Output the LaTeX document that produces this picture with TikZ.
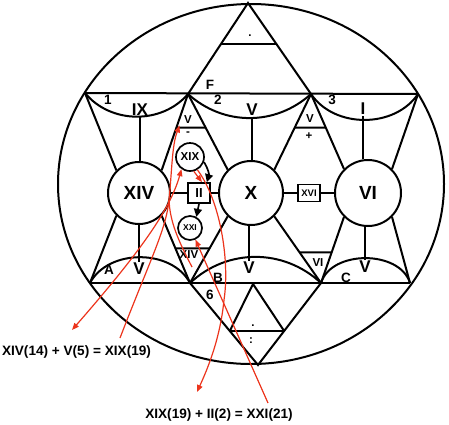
\documentclass[tikz,border=0pt]{standalone}
\usepackage{fontspec}
\setmainfont{Liberation Sans}
\usetikzlibrary{arrows.meta,calc}
\definecolor{annot}{RGB}{236,52,28}

\begin{document}
\begin{tikzpicture}[
    x=1pt, y=1pt,
    line width=2pt,
    ring/.style={circle, draw=black, line width=2pt, minimum size=64pt, inner sep=0pt, font=\fontsize{19}{19}\selectfont\bfseries},
    smallring/.style={circle, draw=black, line width=1.7pt, minimum size=28pt, inner sep=0pt},
    box/.style={rectangle, draw=black, line width=1.7pt, minimum width=22pt, minimum height=20pt, inner sep=0pt},
    lbl/.style={inner sep=0.5pt, font=\fontsize{17}{17}\selectfont\bfseries},
    tag/.style={inner sep=0.5pt, font=\fontsize{13.5}{13.5}\selectfont\bfseries},
    tiny/.style={inner sep=0.5pt, font=\fontsize{11.5}{11.5}\selectfont\bfseries},
    sum/.style={inner sep=0pt, font=\fontsize{13.6}{13.6}\selectfont\bfseries},
    arrow/.style={-{Triangle[length=8pt,width=8pt]}, line width=1.7pt},
    redarrow/.style={->, >={Triangle[length=7pt,width=5.5pt]}, draw=annot, line width=1.2pt},
    redline/.style={draw=annot, line width=1.2pt}
]
\useasboundingbox (0,0) rectangle (449,-424);

% Outer ring
\draw (251,-184) ellipse [x radius=193, y radius=180];

% Corner points
\coordinate (apex) at (248,-3);
\coordinate (tl) at (85,-93);
\coordinate (F) at (188,-94);
\coordinate (three) at (311,-94);
\coordinate (tr) at (418,-94);
\coordinate (bl) at (90,-283);
\coordinate (B) at (190,-283);
\coordinate (C) at (321,-283);
\coordinate (br) at (410,-283);
\coordinate (bot) at (258,-365);
\coordinate (tip) at (253,-284);

% Circles and boxes
\node[ring, minimum size=62pt] (cXIV) at (139,-193) {XIV};
\node[ring] (cX) at (251,-193) {X};
\node[ring, minimum size=66pt] (cVI) at (368,-193) {VI};
\node[smallring, font=\fontsize{11.5}{11.5}\selectfont\bfseries] (cXIX) at (190,-157) {XIX};
\node[box, font=\fontsize{13}{13}\selectfont\bfseries] (bII) at (199,-193) {II};
\node[smallring, minimum size=24pt, font=\fontsize{8.5}{8.5}\selectfont\bfseries] (cXXI) at (190,-228) {XXI};
\node[box, minimum height=17pt, font=\fontsize{9.5}{9.5}\selectfont\bfseries] (bXVI) at (309,-193) {XVI};

% Rails and arcs
\draw (tl) -- (tr);
\draw (bl) -- (br);
\draw (tl) to[bend right=50] (F);
\draw (F) to[bend right=42] (three);
\draw (three) to[bend right=56] (tr);
\draw (bl) to[bend left=62] (B);
\draw (B) to[bend left=43] (C);
\draw (C) to[bend left=73] (br);

% Big triangles
\draw (F) -- (apex) -- (three);
\draw ($(apex)!.45!(F)$) -- ($(apex)!.45!(three)$);
\draw (B) -- (bot) -- (C);
\draw ($(bot)!.415!(B)$) -- ($(bot)!.415!(C)$);
\draw ($(bot)!.415!(B)$) -- (tip) -- ($(bot)!.415!(C)$);

% Spokes
\draw (tl) -- (cXIV.135);
\draw (F) -- (cXIV.45);
\draw (F) -- (cX.135);
\draw (three) -- (cX.45);
\draw (three) -- (cVI.135);
\draw (tr) -- (cVI.45);
\draw (bl) -- (cXIV.225);
\draw (B) -- (cXIV.315);
\draw (B) -- (cX.225);
\draw (C) -- (cX.315);
\draw (C) -- (cVI.225);
\draw (br) -- (cVI.315);

% Small triangles
\draw ($(F)!.44!(cXIV.45)$) -- ($(F)!.445!(cX.135)$);
\draw ($(three)!.445!(cX.45)$) -- ($(three)!.449!(cVI.135)$);
\draw ($(B)!.514!(cXIV.315)$) -- ($(B)!.52!(cX.225)$);
\draw ($(C)!.46!(cX.315)$) -- ($(C)!.465!(cVI.225)$);

% Labels
\node[tag] (l1) at (108,-100) {1};
\node[tag] (lF) at (210,-85) {F};
\node[tag] (l2) at (218,-100) {2};
\node[tag] (l3) at (332,-100) {3};
\node[lbl] (lIX) at (140,-110) {IX};
\node[lbl] (lVtop) at (252,-110) {V};
\node[lbl] (lI) at (363,-109) {I};
\node[tiny] (lVF) at (188,-120) {V};
\node[tiny] (lminus) at (188,-134) {-};
\node[tiny] (lV3) at (310,-119) {V};
\node[tiny] (lplus) at (309,-136) {+};
\node[tiny] (ldot) at (250,-36) {.};
\node[tiny] (lXIV) at (189,-255) {XIV};
\node[tiny] (lVI) at (318,-263) {VI};
\node[tag] (lA) at (109,-270) {A};
\node[tag] (lB) at (218,-278) {B};
\node[tag] (lC) at (346,-278) {C};
\node[tag] (l6) at (210,-295) {6};
\node[lbl] (lVA) at (139,-269) {V};
\node[lbl] (lVB) at (249,-268) {V};
\node[lbl] (lVC) at (365,-267) {V};
\node[tiny] (ldot2) at (253,-326) {.};
\node[tiny] (lcolon) at (251,-341) {:};

% Stems
\draw (lIX.south) -- (lIX.south |- cXIV.north);
\draw (lVtop.south) -- (lVtop.south |- cX.north);
\draw (lI.south) -- (lI.south |- cVI.north);
\draw (lVA.north) -- (lVA.north |- cXIV.south);
\draw (lVB.north) -- (lVB.north |- cX.south);
\draw (lVC.north) -- (lVC.north |- cVI.south);

% Hub links
\draw (cXIV) -- (bII);
\draw (bII) -- (cX);
\draw (cX) -- (bXVI);
\draw (bXVI) -- (cVI);

% Black arrows
\draw[arrow] (cXIX.-20) to[bend left=25] ([xshift=-4pt]bII.north east);
\draw[arrow] (bII.south) -- (cXXI.60);

% Sums
\node[sum] (sumA) at (76.5,-352) {XIV(14) + V(5) = XIX(19)};
\node[sum] (sumB) at (219,-415) {XIX(19) + II(2) = XXI(21)};

% Red annotations
\coordinate (e1) at (72,-330);
\coordinate (e2) at (120,-338);
\coordinate (e3) at (197,-392);
\coordinate (e4) at (268,-403);
\coordinate (e5) at (192,-267);
\coordinate (joint) at (169,-200);

\draw[redarrow, <->] (e1) .. controls (140,-252) and (170,-210) .. (cXIX.235);
\draw[redarrow] (e2) .. controls (150,-260) and (166,-230) .. (joint) .. controls (172,-170) and (172,-145) .. ([xshift=-3pt]lVF.south west);
\draw[redline] (e5) .. controls (178,-240) and (170,-222) .. (joint);
\draw[redarrow] (cXIX.-75) -- ([xshift=3pt]bII.north);
\draw[redarrow] (cXIX.-60) .. controls (220,-200) and (230,-260) .. (224,-300) .. controls (220,-340) and (207,-370) .. (e3);
\draw[redarrow] (e4) -- (cXXI.-65);

\end{tikzpicture}
\end{document}
